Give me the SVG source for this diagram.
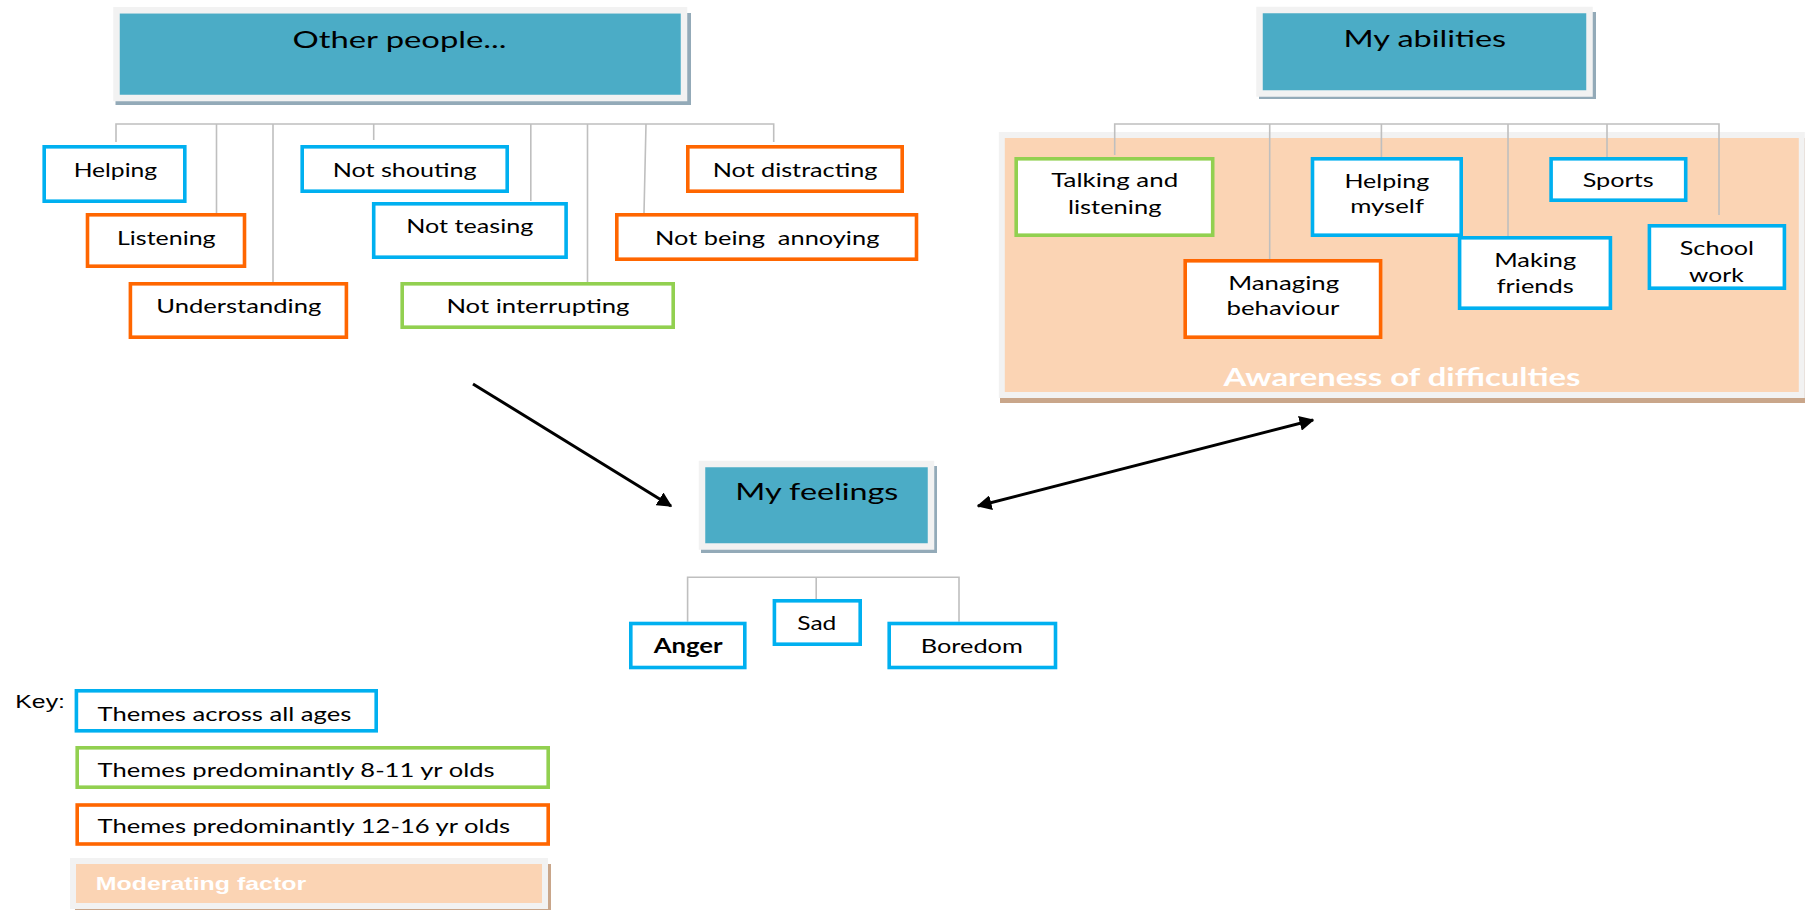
<svg xmlns="http://www.w3.org/2000/svg" width="1805" height="910" viewBox="0 0 1805 910">
<style>
.t{font-family:Lato,"Liberation Sans",sans-serif;fill:#000;text-anchor:middle}
.b{font-size:20px}
.h{font-size:24px}
.lg{font-size:20px;text-anchor:start}
.box{fill:#fff;stroke-width:3.6}
.blue{stroke:#00b0f0}
.orange{stroke:#ff6600}
.green{stroke:#92d050}
.title{fill:#4bacc6;stroke:#f2f2f2;stroke-width:6.5}
.tshadow{fill:#93aab8}
.conn{fill:none;stroke:#bfbfbf;stroke-width:1.6}
.arrow{stroke:#000;stroke-width:3;fill:none}
</style>
<defs>
<marker id="ah" viewBox="0 0 10 10" refX="9" refY="5" markerWidth="5" markerHeight="5" orient="auto-start-reverse" markerUnits="strokeWidth">
<path d="M0,0 L10,5 L0,10 z" fill="#000"/>
</marker>
</defs>
<rect width="1805" height="910" fill="#fff"/>

<g id="awareness">
<rect x="1000" y="138" width="805" height="265" fill="#c9a68a"/>
<rect x="1001.8" y="135" width="800" height="260" fill="#fbd4b4" stroke="#f2f2f2" stroke-width="6"/>
<text class="t" x="1402" y="385.7" font-size="25" font-weight="bold" style="fill:#fff" textLength="357" lengthAdjust="spacingAndGlyphs">Awareness of difficulties</text>
</g>

<g id="connectors">
<path class="conn" d="M116,142 V124 H773.7 V142 M216.5,124 V213 M273,124 V282 M373.7,124 V140 M530.8,124 V201 M587.5,124 V282 M646,124 L644,213"/>
<path class="conn" d="M1114.7,155 V124 H1719 V215 M1269.7,124 V259 M1381.4,124 V157 M1508,124 V236 M1607,124 V157"/>
<path class="conn" d="M687.6,621.7 V577.3 H959 V621.7 M816.2,577.3 V599"/>
<line class="arrow" x1="473" y1="384" x2="671" y2="506" marker-end="url(#ah)"/>
<line class="arrow" x1="978" y1="506" x2="1313" y2="420" marker-start="url(#ah)" marker-end="url(#ah)"/>
</g>

<g id="other-people">
<rect class="tshadow" x="115.5" y="13" width="575.5" height="92"/>
<rect class="title" x="116.5" y="10.3" width="567.5" height="87.7"/>
<text class="t h" x="399.5" y="48" textLength="214" lengthAdjust="spacingAndGlyphs">Other people...</text>
</g>
<g id="my-abilities">
<rect class="tshadow" x="1259" y="12" width="337" height="87"/>
<rect class="title" x="1259.5" y="10" width="330" height="83.5"/>
<text class="t h" x="1424.8" y="47" textLength="162.7" lengthAdjust="spacingAndGlyphs">My abilities</text>
</g>
<g id="my-feelings">
<rect class="tshadow" x="701" y="466" width="236" height="87"/>
<rect class="title" x="702" y="464" width="229" height="82.5"/>
<text class="t h" x="816.8" y="500" textLength="163" lengthAdjust="spacingAndGlyphs">My feelings</text>
</g>

<g id="helping"><rect class="box blue" x="44.2" y="146.8" width="140.6" height="54.4"/><text class="t b" x="115.4" y="176.7" textLength="83.5" lengthAdjust="spacingAndGlyphs">Helping</text></g>
<g id="listening"><rect class="box orange" x="87.5" y="214.8" width="157" height="51.4"/><text class="t b" x="166.3" y="245" textLength="98.6" lengthAdjust="spacingAndGlyphs">Listening</text></g>
<g id="understanding"><rect class="box orange" x="130.4" y="283.8" width="216" height="53.4"/><text class="t b" x="238.8" y="313.3" textLength="165" lengthAdjust="spacingAndGlyphs">Understanding</text></g>
<g id="not-shouting"><rect class="box blue" x="302.2" y="146.8" width="205" height="44.4"/><text class="t b" x="404.7" y="177" textLength="144" lengthAdjust="spacingAndGlyphs">Not shouting</text></g>
<g id="not-teasing"><rect class="box blue" x="373.7" y="203.8" width="192.4" height="53.4"/><text class="t b" x="469.8" y="233.3" textLength="127" lengthAdjust="spacingAndGlyphs">Not teasing</text></g>
<g id="not-interrupting"><rect class="box green" x="402.2" y="283.8" width="271" height="43.4"/><text class="t b" x="537.9" y="313.3" textLength="183" lengthAdjust="spacingAndGlyphs">Not interrupting</text></g>
<g id="not-distracting"><rect class="box orange" x="687.8" y="146.8" width="214.4" height="44.4"/><text class="t b" x="795" y="177" font-size="21" textLength="164.7" lengthAdjust="spacingAndGlyphs">Not distracting</text></g>
<g id="not-being-annoying"><rect class="box orange" x="616.8" y="214.8" width="299.7" height="44.4"/><text class="t b" x="767.2" y="245" font-size="21" textLength="224.3" lengthAdjust="spacingAndGlyphs" xml:space="preserve">Not being  annoying</text></g>

<g id="talking-listening"><rect class="box green" x="1016.2" y="158.8" width="196.5" height="76.4"/><text class="t b" x="1114.7" y="186.7" textLength="127" lengthAdjust="spacingAndGlyphs">Talking and</text><text class="t b" x="1114.7" y="214" textLength="93.5" lengthAdjust="spacingAndGlyphs">listening</text></g>
<g id="managing-behaviour"><rect class="box orange" x="1185.2" y="260.8" width="195.4" height="76.4"/><text class="t b" x="1283.7" y="290" textLength="111" lengthAdjust="spacingAndGlyphs">Managing</text><text class="t b" x="1283" y="315" textLength="113" lengthAdjust="spacingAndGlyphs">behaviour</text></g>
<g id="helping-myself"><rect class="box blue" x="1312.5" y="158.8" width="148.7" height="76.4"/><text class="t b" x="1386.8" y="188.3" textLength="84.7" lengthAdjust="spacingAndGlyphs">Helping</text><text class="t b" x="1387.1" y="213.3" textLength="73.8" lengthAdjust="spacingAndGlyphs">myself</text></g>
<g id="making-friends"><rect class="box blue" x="1459.6" y="237.8" width="150.8" height="70.4"/><text class="t b" x="1535.2" y="266.7" textLength="82" lengthAdjust="spacingAndGlyphs">Making</text><text class="t b" x="1535.2" y="293.3" textLength="77" lengthAdjust="spacingAndGlyphs">friends</text></g>
<g id="sports"><rect class="box blue" x="1551.1" y="158.8" width="134.6" height="41.4"/><text class="t b" x="1618.2" y="186.7" textLength="71" lengthAdjust="spacingAndGlyphs">Sports</text></g>
<g id="school-work"><rect class="box blue" x="1649.4" y="225.8" width="135" height="62.4"/><text class="t b" x="1716.9" y="255" textLength="74.3" lengthAdjust="spacingAndGlyphs">School</text><text class="t b" x="1716.4" y="281.7" textLength="54.6" lengthAdjust="spacingAndGlyphs">work</text></g>

<g id="anger"><rect class="box blue" x="630.8" y="623.5" width="114" height="44"/><text class="t b" x="688.2" y="653.3" font-weight="bold" textLength="69" lengthAdjust="spacingAndGlyphs">Anger</text></g>
<g id="sad"><rect class="box blue" x="774.4" y="600.8" width="85.8" height="43.4"/><text class="t b" x="816.8" y="630" textLength="39" lengthAdjust="spacingAndGlyphs">Sad</text></g>
<g id="boredom"><rect class="box blue" x="889.2" y="623.5" width="166.3" height="44"/><text class="t b" x="971.8" y="653.3" textLength="102" lengthAdjust="spacingAndGlyphs">Boredom</text></g>

<g id="key">
<text x="15.3" y="707.7" font-family="'Liberation Sans',Arial,sans-serif" font-size="19" textLength="49.7" lengthAdjust="spacingAndGlyphs">Key:</text>
<rect class="box blue" x="76.4" y="690.8" width="299.8" height="40"/>
<text class="t lg" x="97.6" y="721" textLength="253.7" lengthAdjust="spacingAndGlyphs">Themes across all ages</text>
<rect class="box green" x="77.2" y="747.8" width="471" height="39.4"/>
<text class="t lg" x="97.6" y="776.7" textLength="397" lengthAdjust="spacingAndGlyphs">Themes predominantly 8-11 yr olds</text>
<rect class="box orange" x="77.2" y="805" width="471" height="39"/>
<text class="t lg" x="97.6" y="833.3" textLength="412.5" lengthAdjust="spacingAndGlyphs">Themes predominantly 12-16 yr olds</text>
<rect x="75" y="864" width="476" height="46" fill="#c9a68a"/>
<rect x="73" y="861" width="472" height="45" fill="#fbd4b4" stroke="#f2f2f2" stroke-width="6"/>
<text x="95.7" y="890" font-family="'Liberation Sans',Arial,sans-serif" font-size="19" font-weight="bold" fill="#fff" textLength="210.5" lengthAdjust="spacingAndGlyphs">Moderating factor</text>
</g>
</svg>
